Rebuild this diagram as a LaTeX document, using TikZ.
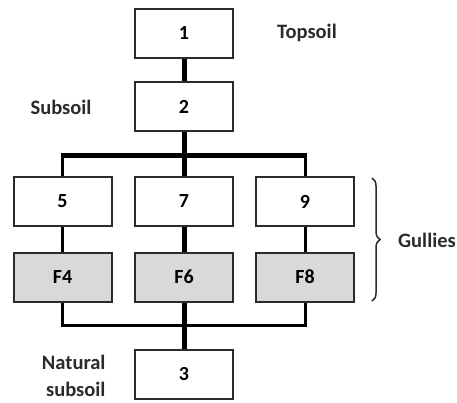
\documentclass[tikz,border=0pt]{standalone}
\usepackage{fontspec}
\setmainfont{Carlito}
\usetikzlibrary{decorations.pathreplacing}
\definecolor{edge}{HTML}{2B2B2B}
\definecolor{fillgray}{HTML}{D9D9D9}
\tikzset{
  unit/.style={draw=edge, line width=2pt, minimum width=98pt, minimum height=49pt,
    inner sep=0pt, font=\fontsize{20}{22}\selectfont\bfseries},
  feature/.style={unit, fill=fillgray},
  label/.style={font=\fontsize{20.5}{27}\selectfont\bfseries, text=edge},
  mainline/.style={line width=5pt, draw=black},
  sideline/.style={line width=3pt, draw=black},
}
\begin{document}
\begin{tikzpicture}[x=1pt,y=-1pt]
  \useasboundingbox (0,0) rectangle (457,402);
  % context units
  \node[unit] (n1) at (184,33.5) {1};
  \node[unit] (n2) at (184,106.5) {2};
  % gully fills and cuts
  \node[unit] (n5) at (62.5,201.5) {5};
  \node[unit] (n7) at (184,201.5) {7};
  \node[unit] (n9) at (305,201.5) {9};
  \node[feature] (f4) at (62.5,277) {F4};
  \node[feature] (f6) at (184,277) {F6};
  \node[feature] (f8) at (305,277) {F8};
  \node[unit] (n3) at (184,374) {3};
  % junction points
  \coordinate (split) at (184,155);
  \coordinate (merge) at (184,325);
  % connectors
  \draw[mainline] (n1.south) -- (n2.north);
  \draw[mainline] (n2.south) -- (n7.north);
  \draw[sideline] (n5.north) -- (n5.north |- split);
  \draw[sideline] (n9.north) -- (n9.north |- split);
  \draw[mainline] ([xshift=-1.5pt]n5.north |- split) -- ([xshift=1.5pt]n9.north |- split);
  \draw[sideline] (n5.south) -- (f4.north);
  \draw[sideline] (n9.south) -- (f8.north);
  \draw[mainline] (n7.south) -- (f6.north);
  \draw[sideline] (f4.south) |- (merge) -| (f8.south);
  \draw[mainline] (f6.south) -- (n3.north);
  % labels
  \node[label] (top) at (307,33) {Topsoil};
  \node[label] (sub) at (61,107) {Subsoil};
  \node[label, align=right, anchor=east] (nat) at (109,376) {Natural\\subsoil};
  \draw[edge, line width=1.5pt, decorate, decoration={brace, amplitude=8pt}]
    (372,178) -- (372,301);
  \node[label] (gul) at (427,240) {Gullies};
\end{tikzpicture}
\end{document}
